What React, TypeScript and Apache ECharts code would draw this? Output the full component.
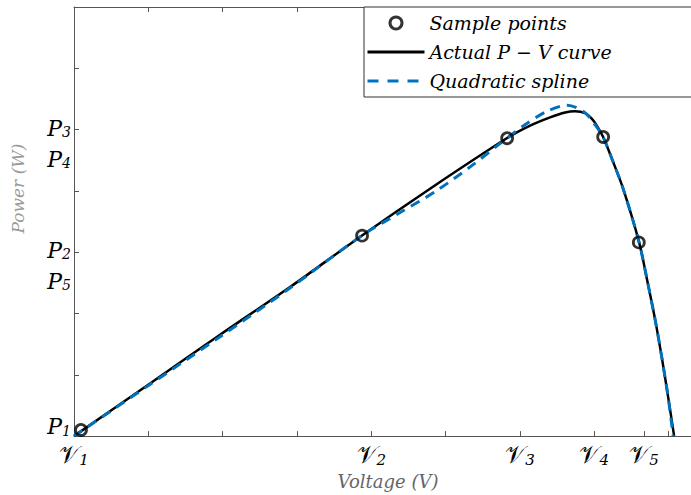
import React, { useEffect, useRef } from 'react';
import * as echarts from 'echarts';

// Sample points (voltage, power) in axis units
const sampleV = [0.094, 3.876, 5.828, 7.12, 7.6];
const sampleP = [0.1, 3.27, 4.86, 4.88, 3.16];

// Actual P-V curve
const actualV = [0, 1.023, 1.965, 2.907, 3.876, 4.791, 5.828, 6.137, 6.406, 6.608, 6.743, 6.878, 6.972, 7.039, 7.12, 7.254, 7.389, 7.604, 7.712, 7.82, 7.914, 7.995, 8.075];
const actualP = [0, 0.859, 1.653, 2.431, 3.274, 4.036, 4.862, 5.065, 5.2, 5.28, 5.3, 5.267, 5.17, 5.057, 4.878, 4.473, 4.036, 3.16, 2.545, 1.896, 1.248, 0.632, 0];

// Quadratic spline
const splineV = [0, 1.023, 1.965, 2.907, 3.876, 4.388, 4.859, 5.33, 5.828, 6.043, 6.366, 6.635, 6.851, 6.985, 7.12, 7.254, 7.389, 7.604, 7.712, 7.82, 7.914, 7.995, 8.062];
const splineP = [0, 0.843, 1.621, 2.415, 3.274, 3.647, 3.987, 4.392, 4.862, 5.057, 5.3, 5.397, 5.3, 5.122, 4.878, 4.473, 4.036, 3.16, 2.545, 1.896, 1.248, 0.632, 0];

// Ticks and tick labels
const xTickValues = [0, 1, 2, 3, 4, 5, 6, 7, 7.67, 8];
const xLabelValues = [0, 4, 6, 7, 7.67];
const xLabelSubs = ['1', '2', '3', '4', '5'];
const yLabelValues = [0.15, 2.53, 3.03, 4.52, 5.02];
const yLabelSubs = ['1', '5', '2', '4', '3'];

const seriesNames = ['Sample points', 'Actual P \u2212 V curve', 'Quadratic spline'];

const SERIF = "'DejaVu Serif', 'Liberation Serif', serif";

function lookup(values: number[], subs: string[], v: number): string {
  for (let i = 0; i < values.length; i++) {
    if (Math.abs(values[i] - v) < 1e-6) return subs[i];
  }
  return '';
}

export default function App() {
  const ref = useRef<HTMLDivElement>(null);
  useEffect(() => {
    if (!ref.current) return;
    const chart = echarts.init(ref.current, undefined, { renderer: 'svg' });
    const axisColor = '#555';
    const tickStyle = { color: axisColor, width: 1 };
    const hiddenSymbol = { color: 'rgba(0,0,0,0)', borderWidth: 0, opacity: 0 };
    const option = {
      animation: false,
      backgroundColor: '#fff',
      grid: { left: 74, top: 7, right: 18, bottom: 56 },
      legend: {
        orient: 'vertical',
        left: 364,
        top: 7,
        data: [
          { name: seriesNames[0], itemStyle: { borderWidth: 3, borderColor: '#000' } },
          { name: seriesNames[1], lineStyle: { width: 3 }, itemStyle: hiddenSymbol },
          { name: seriesNames[2], lineStyle: { width: 3, type: [11, 9] }, itemStyle: hiddenSymbol },
        ],
        backgroundColor: '#fff',
        borderColor: '#333',
        borderWidth: 1,
        borderRadius: 0,
        padding: [5, 110, 5, 2],
        itemGap: 7,
        itemWidth: 57,
        itemHeight: 12,
        textStyle: { fontFamily: SERIF, fontStyle: 'italic', fontSize: 19, color: '#000', lineHeight: 22 },
      },
      xAxis: [
        {
          type: 'value',
          min: 0,
          max: 8.45,
          position: 'bottom',
          axisLine: { show: true, onZero: false, lineStyle: tickStyle },
          axisTick: { show: true, inside: true, length: 5, customValues: xTickValues, lineStyle: tickStyle },
          axisLabel: {
            show: true,
            customValues: xLabelValues,
            margin: 5,
            formatter: (v: number) => '{v|\uD835\uDCB1}{s|' + lookup(xLabelValues, xLabelSubs, v) + '}',
            rich: {
              v: { fontFamily: SERIF, fontSize: 24, color: '#000', lineHeight: 28 },
              s: { fontFamily: SERIF, fontStyle: 'italic', fontSize: 15, color: '#000', padding: [9, 0, 0, 0] },
            },
          },
          splitLine: { show: false },
          name: 'Voltage (V)',
          nameLocation: 'middle',
          nameGap: 33,
          nameTextStyle: { fontFamily: SERIF, fontStyle: 'italic', fontSize: 18, color: '#666' },
        },
        {
          type: 'value',
          min: 0,
          max: 8.45,
          position: 'top',
          axisLine: { show: true, onZero: false, lineStyle: tickStyle },
          axisTick: { show: true, inside: true, length: 5, customValues: xTickValues, lineStyle: tickStyle },
          axisLabel: { show: false },
          splitLine: { show: false },
        },
      ],
      yAxis: {
        type: 'value',
        min: 0,
        max: 7,
        interval: 1,
        axisLine: { show: true, onZero: false, lineStyle: tickStyle },
        axisTick: { show: true, inside: true, length: 5, lineStyle: tickStyle },
        axisLabel: {
          show: true,
          customValues: yLabelValues,
          margin: 3,
          formatter: (v: number) => '{p|P}{s|' + lookup(yLabelValues, yLabelSubs, v) + '}',
          rich: {
            p: { fontFamily: SERIF, fontStyle: 'italic', fontSize: 22, color: '#000', lineHeight: 26 },
            s: { fontFamily: SERIF, fontStyle: 'italic', fontSize: 14, color: '#000', padding: [8, 0, 0, 0] },
          },
        },
        splitLine: { show: false },
        name: 'Power (W)',
        nameLocation: 'middle',
        nameRotate: 90,
        nameGap: 48,
        nameTextStyle: { fontFamily: SERIF, fontStyle: 'italic', fontSize: 17, color: '#999', padding: [0, 0, 0, 66] },
      },
      series: [
        {
          name: seriesNames[1],
          type: 'line',
          data: actualV.map((v, i) => [v, actualP[i]]),
          showSymbol: false,
          symbol: 'none',
          smooth: 0.3,
          lineStyle: { color: '#000', width: 2.5 },
          itemStyle: { color: '#000' },
          z: 2,
        },
        {
          name: seriesNames[2],
          type: 'line',
          data: splineV.map((v, i) => [v, splineP[i]]),
          showSymbol: false,
          symbol: 'none',
          smooth: 0.3,
          lineStyle: { color: '#0072BD', width: 3, type: [10, 7] },
          itemStyle: { color: '#0072BD' },
          z: 3,
        },
        {
          name: seriesNames[0],
          type: 'scatter',
          data: sampleV.map((v, i) => [v, sampleP[i]]),
          symbol: 'circle',
          symbolSize: 11,
          itemStyle: { color: 'rgba(0,0,0,0)', borderColor: '#000', borderWidth: 2.8 },
          z: 5,
        },
      ],
    };
    chart.setOption(option as any);
    return () => chart.dispose();
  }, []);
  return (
    <div style={{ position: 'absolute', left: 0, top: 0, width: 691, height: 495, overflow: 'hidden', background: '#fff' }}>
      <div ref={ref} style={{ width: 720, height: 495 }} />
    </div>
  );
}
